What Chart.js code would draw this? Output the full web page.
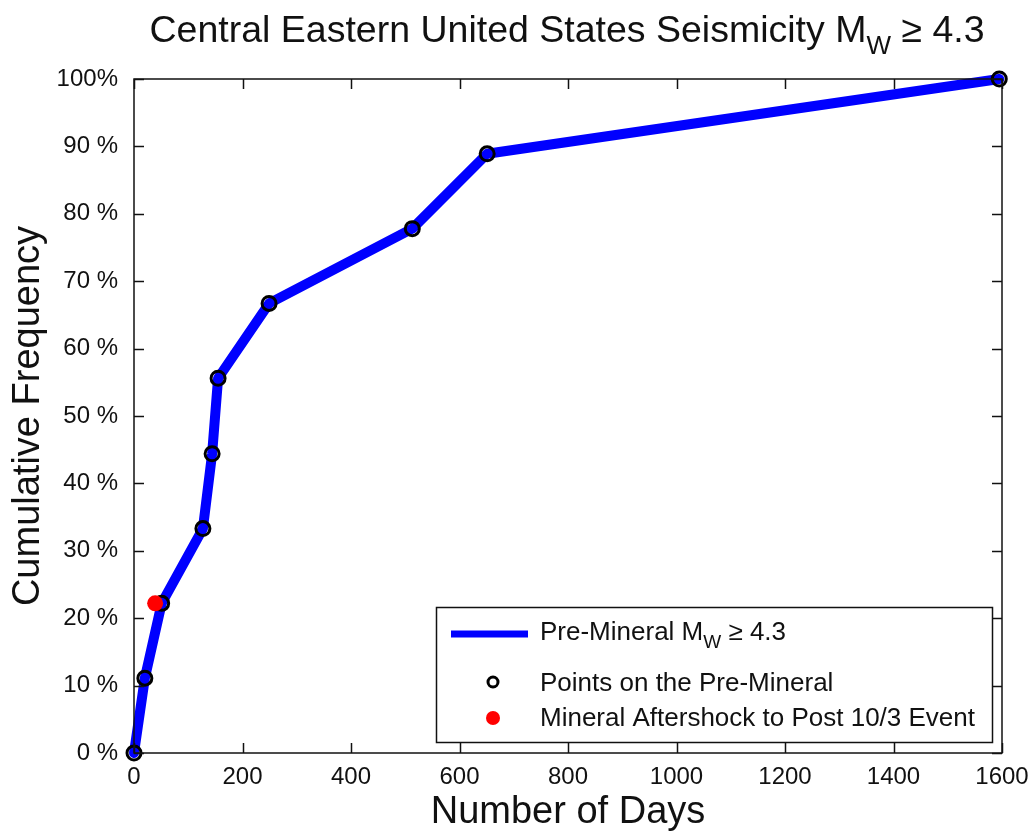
<!DOCTYPE html>
<html>
<head>
<meta charset="utf-8">
<title>CEUS Seismicity</title>
<script src="https://cdn.jsdelivr.net/npm/chart.js@4.4.1/dist/chart.umd.min.js"></script>
<style>
  body { margin: 0; background: #fff; }
  #wrap { width: 1031px; height: 835px; }
</style>
</head>
<body>
<div id="wrap"><canvas id="canvas" width="1031" height="835"></canvas></div>
<script>
// days between events and cumulative frequency (%)
const days = [0, 20, 51, 127, 144, 155, 249, 513, 651, 1595]
const cumFreq = [0, 11.1, 22.2, 33.3, 44.4, 55.6, 66.7, 77.8, 88.9, 100]
// Mineral aftershock to post 10/3 event
const aftershockDays = [39]
const aftershockFreq = [22.2]

const xTicks = [0, 200, 400, 600, 800, 1000, 1200, 1400, 1600]
const yTicks = [0, 10, 20, 30, 40, 50, 60, 70, 80, 90, 100]

const FONT = '"Liberation Sans", Arial, Helvetica, sans-serif'
const INK = '#111'

function pts(xs, ys) {
  return xs.map(function (x, i) { return { x: x, y: ys[i] } })
}

// text with a subscript: parts = [[text, sub?], ...]
function drawRich(ctx, parts, x, y, size, subSize, subDrop) {
  let cx = x
  parts.forEach(function (p) {
    ctx.font = (p[1] ? subSize : size) + 'px ' + FONT
    ctx.fillText(p[0], cx, p[1] ? y + subDrop : y)
    cx += ctx.measureText(p[0]).width
  })
  return cx
}

function richWidth(ctx, parts, size, subSize) {
  let w = 0
  parts.forEach(function (p) {
    ctx.font = (p[1] ? subSize : size) + 'px ' + FONT
    w += ctx.measureText(p[0]).width
  })
  return w
}

const decorations = {
  id: 'decorations',
  afterDraw: function (chart) {
    const ctx = chart.ctx
    const a = chart.chartArea
    const xs = chart.scales.x
    const ys = chart.scales.y
    ctx.save()

    // axes box with ticks pointing inward
    ctx.strokeStyle = INK
    ctx.lineWidth = 1.5
    ctx.strokeRect(a.left, a.top, a.right - a.left, a.bottom - a.top)
    const tl = 10
    ctx.beginPath()
    xTicks.forEach(function (v) {
      const px = Math.round(xs.getPixelForValue(v)) + 0.5
      ctx.moveTo(px, a.bottom); ctx.lineTo(px, a.bottom - tl)
      ctx.moveTo(px, a.top); ctx.lineTo(px, a.top + tl)
    })
    yTicks.forEach(function (v) {
      const py = Math.round(ys.getPixelForValue(v)) + 0.5
      ctx.moveTo(a.left, py); ctx.lineTo(a.left + tl, py)
      ctx.moveTo(a.right, py); ctx.lineTo(a.right - tl, py)
    })
    ctx.stroke()

    // title
    ctx.fillStyle = INK
    ctx.textBaseline = 'alphabetic'
    ctx.textAlign = 'left'
    const title = [['Central Eastern United States Seismicity M', false], ['W', true], [' \u2265 4.3', false]]
    const tw = richWidth(ctx, title, 37.5, 26)
    drawRich(ctx, title, 567 - tw / 2, 42, 37.5, 26, 12)

    // legend
    const lx = 436, ly = 607, lw = 556, lh = 135
    ctx.fillStyle = '#fff'
    ctx.fillRect(lx, ly, lw, lh)
    ctx.strokeStyle = INK
    ctx.lineWidth = 1.5
    ctx.strokeRect(lx + 0.5, ly + 0.5, lw, lh)

    ctx.strokeStyle = '#0000ff'
    ctx.lineWidth = 7
    ctx.beginPath()
    ctx.moveTo(451, 634); ctx.lineTo(528, 634)
    ctx.stroke()

    ctx.strokeStyle = '#000'
    ctx.lineWidth = 3
    ctx.beginPath()
    ctx.arc(493, 682, 5, 0, Math.PI * 2)
    ctx.stroke()

    ctx.fillStyle = '#ff0000'
    ctx.beginPath()
    ctx.arc(493, 718, 7, 0, Math.PI * 2)
    ctx.fill()

    ctx.fillStyle = INK
    ctx.textBaseline = 'middle'
    drawRich(ctx, [['Pre-Mineral M', false], ['W', true], [' \u2265 4.3', false]], 540, 633, 26, 19, 10)
    ctx.font = '26px ' + FONT
    ctx.fillText('Points on the Pre-Mineral', 540, 684)
    ctx.fillText('Mineral Aftershock to Post 10/3 Event', 540, 719)

    ctx.restore()
  }
}

const config = {
  type: 'scatter',
  data: {
    datasets: [
      {
        label: 'Mineral Aftershock to Post 10/3 Event',
        data: pts(aftershockDays, aftershockFreq),
        showLine: false,
        pointRadius: 8,
        pointBackgroundColor: '#ff0000',
        pointBorderColor: '#ff0000',
        pointBorderWidth: 0,
        clip: false,
      },
      {
        label: 'Points on the Pre-Mineral',
        data: pts(days, cumFreq),
        showLine: false,
        pointRadius: 7,
        pointBackgroundColor: 'rgba(0,0,0,0)',
        pointBorderColor: '#000',
        pointBorderWidth: 3,
        clip: false,
      },
      {
        label: 'Pre-Mineral',
        data: pts(days, cumFreq),
        showLine: true,
        borderColor: '#0000ff',
        borderWidth: 10,
        borderJoinStyle: 'round',
        borderCapStyle: 'round',
        pointRadius: 0,
        tension: 0,
        clip: false,
      },
    ],
  },
  options: {
    responsive: false,
    animation: false,
    layout: { padding: { left: 0, top: 79, right: 29, bottom: 0 } },
    plugins: {
      legend: { display: false },
      tooltip: { enabled: false },
    },
    scales: {
      x: {
        type: 'linear',
        min: 0,
        max: 1600,
        afterBuildTicks: function (s) { s.ticks = xTicks.map(function (v) { return { value: v } }) },
        afterFit: function (s) { s.height = 82 },
        grid: { display: false },
        border: { display: false },
        ticks: {
          color: INK,
          font: { family: FONT, size: 24 },
          padding: 2,
          maxRotation: 0,
          callback: function (v) { return String(v) },
        },
        title: {
          display: true,
          text: 'Number of Days',
          color: INK,
          font: { family: FONT, size: 38 },
          padding: { top: 0, bottom: 0 },
        },
      },
      y: {
        type: 'linear',
        min: 0,
        max: 100,
        afterBuildTicks: function (s) { s.ticks = yTicks.map(function (v) { return { value: v } }) },
        afterFit: function (s) { s.width = 134 },
        grid: { display: false },
        border: { display: false },
        ticks: {
          color: INK,
          font: { family: FONT, size: 24 },
          padding: 8,
          callback: function (v) { return v === 100 ? '100%' : v + ' %' },
        },
        title: {
          display: true,
          text: 'Cumulative Frequency',
          color: INK,
          font: { family: FONT, size: 38 },
          padding: { top: 6, bottom: 0 },
        },
      },
    },
  },
  plugins: [decorations],
}

const canvas = document.getElementById('canvas')
const chart = new Chart(canvas, config)
</script>
</body>
</html>
